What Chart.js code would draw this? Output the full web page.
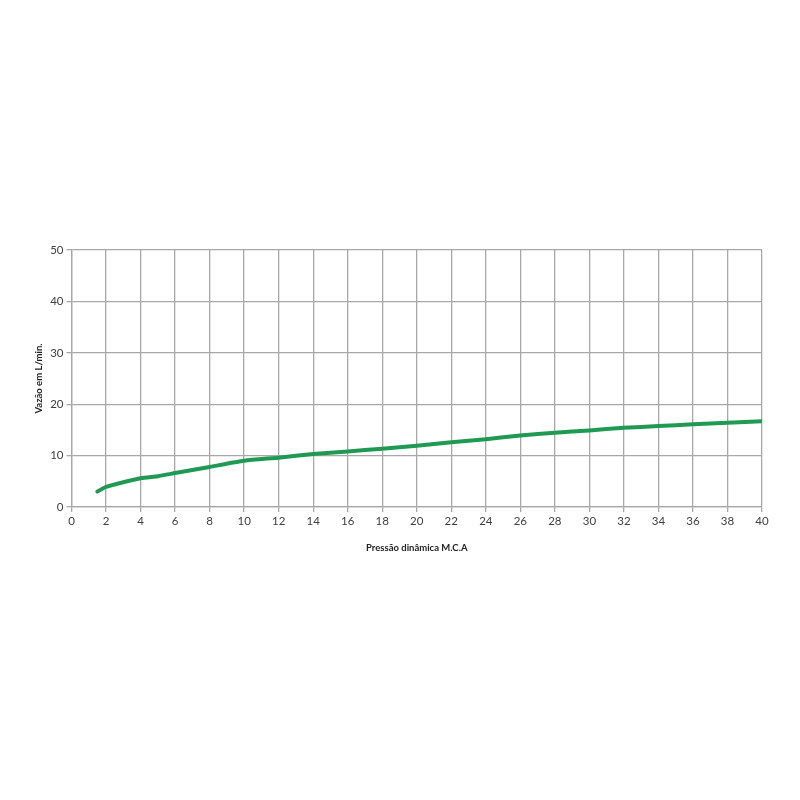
<!DOCTYPE html>
<html>
<head>
<meta charset="utf-8">
<script src="https://cdn.jsdelivr.net/npm/chart.js@4"></script>
<style>
  html, body { margin: 0; padding: 0; background: #fff; }
  #wrap { width: 800px; height: 800px; }
</style>
</head>
<body>
<div id="wrap"><canvas id="grafico"></canvas></div>
<script>
// --- Dados ---
const pressao = [1.5, 2, 4, 5, 6, 8, 10, 12, 14, 16, 18, 20, 22, 24, 26, 28, 30, 32, 34, 36, 38, 40];
const vazao = [3.0, 3.9, 5.6, 6.0, 6.6, 7.8, 9.0, 9.6, 10.3, 10.8, 11.35, 11.9, 12.6, 13.2, 13.9, 14.45, 14.9, 15.4, 15.75, 16.1, 16.4, 16.7];
const ticksX = [0, 2, 4, 6, 8, 10, 12, 14, 16, 18, 20, 22, 24, 26, 28, 30, 32, 34, 36, 38, 40];
const ticksY = [0, 10, 20, 30, 40, 50];

const corGrade = '#a8a8a8';
const corTexto = '#404040';
const fonte = "Lato, 'Open Sans', sans-serif";

const pontos = pressao.map((p, i) => ({ x: p, y: vazao[i] }));

new Chart(document.getElementById('grafico'), {
  type: 'line',
  data: {
    datasets: [{
      data: pontos,
      borderColor: '#1f9a52',
      borderWidth: 4,
      pointRadius: 0,
      fill: false,
      tension: 0.2,
      borderCapStyle: 'round',
      borderJoinStyle: 'round'
    }]
  },
  options: {
    responsive: true,
    maintainAspectRatio: false,
    animation: false,
    layout: { padding: { left: 33, right: 38, top: 250, bottom: 246 } },
    plugins: { legend: { display: false }, tooltip: { enabled: false } },
    scales: {
      x: {
        type: 'linear',
        min: 0, max: 40,
        afterBuildTicks: s => { s.ticks = ticksX.map(v => ({ value: v })); },
        afterFit: s => { s.height = 47; },
        grid: { color: corGrade, lineWidth: 1.3, tickLength: 5 },
        border: { color: corGrade, width: 1.3 },
        ticks: { color: corTexto, padding: 2, maxRotation: 0, autoSkip: false, font: { family: fonte, size: 11.5 } },
        title: { display: true, text: 'Pressão dinâmica M.C.A', color: '#222', font: { family: fonte, size: 9.5, weight: 'bold' }, padding: 0 }
      },
      y: {
        min: 0, max: 50,
        afterBuildTicks: s => { s.ticks = ticksY.map(v => ({ value: v })); },
        afterFit: s => { s.width = 38.5; },
        grid: { color: corGrade, lineWidth: 1.3, tickLength: 5 },
        border: { color: corGrade, width: 1.3 },
        ticks: { color: corTexto, padding: 3, font: { family: fonte, size: 11.5 } },
        title: { display: true, text: 'Vazão em L/min.', color: '#222', font: { family: fonte, size: 9.5, weight: 'bold' }, padding: 0 }
      }
    }
  }
});
</script>
</body>
</html>
